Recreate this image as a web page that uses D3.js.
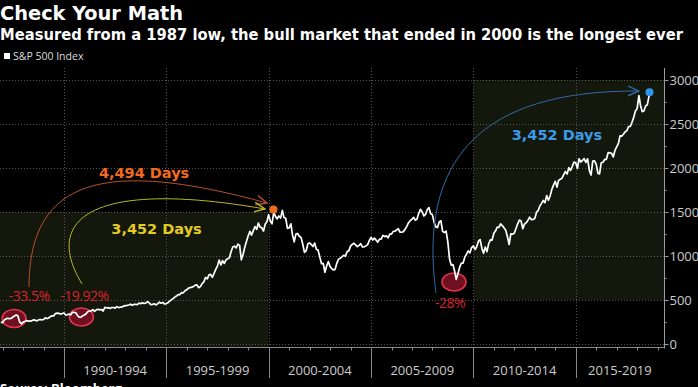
<html>
<head>
  <title>Check Your Math</title>
  <script src='https://d3js.org/d3.v7.min.js'></script>
  <style>
  body { margin: 0; background: #000; }
  svg { display: block; font-family: 'Open Sans', sans-serif; }
  </style>
</head>
<body>
  <script>

// S&P 500 monthly closes, starting Nov 1986
var startYear = 1986, startMonth = 10;
var spxClose = [
  249, 242,
  274, 284, 292, 288, 290, 304, 319, 330, 322, 252, 230, 247,
  257, 268, 259, 261, 262, 274, 272, 262, 272, 279, 274, 278,
  297, 289, 295, 310, 321, 318, 346, 351, 349, 340, 346, 353,
  329, 332, 340, 331, 361, 358, 356, 323, 306, 304, 322, 330,
  344, 367, 375, 375, 390, 371, 388, 395, 388, 392, 375, 417,
  409, 413, 404, 415, 415, 408, 424, 414, 418, 419, 431, 436,
  439, 443, 452, 440, 450, 451, 448, 464, 459, 468, 462, 466,
  482, 467, 446, 451, 457, 444, 458, 475, 463, 472, 454, 459,
  470, 487, 501, 515, 533, 545, 562, 562, 584, 582, 605, 616,
  636, 640, 646, 654, 669, 671, 640, 652, 687, 705, 757, 741,
  786, 791, 757, 801, 848, 885, 954, 899, 947, 915, 955, 970,
  980, 1049, 1102, 1112, 1091, 1134, 1121, 957, 1017, 1099, 1164, 1229,
  1280, 1238, 1286, 1335, 1302, 1373, 1329, 1320, 1283, 1363, 1389, 1469,
  1394, 1366, 1499, 1452, 1421, 1455, 1431, 1518, 1437, 1429, 1315, 1320,
  1366, 1240, 1160, 1249, 1256, 1224, 1211, 1134, 1041, 1060, 1139, 1148,
  1130, 1107, 1147, 1076, 1067, 990, 912, 916, 815, 886, 936, 880,
  856, 841, 848, 917, 964, 975, 990, 1008, 996, 1051, 1058, 1112,
  1131, 1145, 1126, 1107, 1121, 1141, 1102, 1104, 1115, 1130, 1174, 1212,
  1181, 1204, 1181, 1157, 1192, 1191, 1234, 1220, 1229, 1207, 1249, 1248,
  1280, 1281, 1295, 1311, 1270, 1270, 1277, 1304, 1336, 1378, 1401, 1418,
  1438, 1407, 1421, 1482, 1531, 1503, 1455, 1474, 1527, 1549, 1481, 1468,
  1379, 1331, 1323, 1386, 1400, 1280, 1267, 1283, 1166, 969, 896, 903,
  826, 735, 798, 873, 919, 919, 987, 1021, 1057, 1036, 1096, 1115,
  1074, 1104, 1169, 1187, 1089, 1031, 1102, 1049, 1141, 1183, 1181, 1258,
  1286, 1327, 1326, 1364, 1345, 1321, 1292, 1219, 1131, 1253, 1247, 1258,
  1312, 1366, 1408, 1398, 1310, 1362, 1379, 1407, 1441, 1412, 1416, 1426,
  1498, 1515, 1569, 1598, 1631, 1606, 1686, 1633, 1682, 1757, 1806, 1848,
  1783, 1859, 1872, 1884, 1924, 1960, 1931, 2003, 1972, 2018, 2068, 2059,
  1995, 2105, 2068, 2086, 2107, 2063, 2104, 1972, 1920, 2079, 2080, 2044,
  1940, 1932, 2060, 2065, 2097, 2099, 2174, 2171, 2168, 2126, 2199, 2239,
  2279, 2364, 2363, 2384, 2412, 2423, 2470, 2472, 2519, 2575, 2648, 2674,
  2824, 2714, 2641, 2648, 2705, 2718, 2816, 2860
];

var yTicks = [0, 500, 1000, 1500, 2000, 2500, 3000];
var periodStarts = [1990, 1995, 2000, 2005, 2010, 2015];
var periodLabels = ['1990-1994', '1995-1999', '2000-2004', '2005-2009', '2010-2014', '2015-2019'];

// shaded bull market spans: [fromYear, toYear, lowValue, highValue]
var shades = [[1986.87, 2000, 0, 1500], [2010, 2019.31, 500, 3000]];

// peaks marked with dots: [year, value, colour]
var peaks = [[2000.23, 1527, '#f26a1b'], [2018.6, 2860, '#2f96ee']];

// circled drawdowns: [year, value, label, labelYear, labelValue]
var drops = [
  [1987.56, 290, '-33.5%', 1988.3, 490],
  [1990.85, 307, '-19.92%', 1991.0, 490],
  [2009.05, 705, '-28%', 2008.86, 410]
];

// arcs as cubic curves of [year, value] points
var arcs = [
  {c: '#b5512a', pts: [[1988.29, 648], [1988.29, 1920], [1992.25, 2091], [1999.92, 1602]]},
  {c: '#b9b52a', pts: [[1990.88, 682], [1988.83, 1466], [1991.76, 1864], [1999.82, 1534]]},
  {c: '#2e6aa6', pts: [[2008.17, 580], [2007.29, 2091], [2010.32, 2886], [2018.09, 2875]]}
];
var arcLabels = [
  ['4,494 Days', 1993.91, 1890, '#f26a1b'],
  ['3,452 Days', 1994.52, 1250, '#e3cb1f'],
  ['3,452 Days', 2014.08, 2320, '#3a9be8']
];

var width = 698, height = 387;
var plotRight = 664, plotTop = 68, axisY = 347.5;

function yearDate(y) {
  var yr = Math.floor(y);
  var a = new Date(yr, 0, 1), b = new Date(yr + 1, 0, 1);
  return new Date(+a + (y - yr) * (b - a));
}

var series = spxClose.map(function(v, i) {
  return {date: new Date(startYear, startMonth + i + 1, 0), value: v};
});

var x = d3.scaleTime()
  .domain([yearDate(1986.873), yearDate(2019.31)])
  .range([0, plotRight]);
var y = d3.scaleLinear()
  .domain([0, 3000])
  .range([344, 80]);

var svg = d3.select('body')
  .append('svg')
  .attr('width', width)
  .attr('height', height);

svg.append('rect').attr('width', width).attr('height', height).attr('fill', '#000');

// titles
svg.append('text').attr('x', 0).attr('y', 20)
  .attr('fill', '#fff').attr('font-weight', 'bold').attr('font-size', 20)
  .attr('font-family', 'DejaVu Sans Condensed, DejaVu Sans, sans-serif')
  .attr('textLength', 183).attr('lengthAdjust', 'spacingAndGlyphs')
  .text('Check Your Math');
svg.append('text').attr('x', 0).attr('y', 40)
  .attr('fill', '#fff').attr('font-weight', 'bold').attr('font-size', 15)
  .attr('font-family', 'DejaVu Sans Condensed, DejaVu Sans, sans-serif')
  .attr('textLength', 683).attr('lengthAdjust', 'spacingAndGlyphs')
  .text('Measured from a 1987 low, the bull market that ended in 2000 is the longest ever');

// legend
svg.append('rect').attr('x', 4).attr('y', 53).attr('width', 6).attr('height', 6).attr('fill', '#fff');
svg.append('text').attr('x', 13).attr('y', 60)
  .attr('fill', '#ddd').attr('font-size', 10.5)
  .text('S&P 500 Index');

// shaded regions
svg.selectAll('rect.shade')
  .data(shades)
  .enter()
  .append('rect')
  .attr('class', 'shade')
  .attr('x', function(d) { return x(yearDate(d[0])); })
  .attr('width', function(d) { return x(yearDate(d[1])) - x(yearDate(d[0])); })
  .attr('y', function(d) { return y(d[3]); })
  .attr('height', function(d) { return (d[2] == 0 ? axisY : y(d[2])) - y(d[3]); })
  .attr('fill', '#14170b');

// grid
var grid = svg.append('g').attr('stroke', '#555').attr('stroke-dasharray', '1,2');
grid.selectAll('line.h')
  .data(yTicks)
  .enter()
  .append('line')
  .attr('x1', 0).attr('x2', plotRight)
  .attr('y1', function(d) { return Math.round(y(d)) + 0.5; })
  .attr('y2', function(d) { return Math.round(y(d)) + 0.5; });
grid.selectAll('line.v')
  .data(periodStarts)
  .enter()
  .append('line')
  .attr('y1', plotTop).attr('y2', axisY)
  .attr('x1', function(d) { return Math.round(x(yearDate(d))) + 0.5; })
  .attr('x2', function(d) { return Math.round(x(yearDate(d))) + 0.5; });

// right axis
var yAxis = d3.axisRight(y)
  .tickValues(d3.range(0, 3001, 250))
  .tickSize(4)
  .tickFormat(function(d) { return d % 500 == 0 ? d : ''; });
var ya = svg.append('g')
  .attr('transform', 'translate(' + (plotRight + 0.5) + ',0)')
  .call(yAxis);
ya.select('.domain').remove();
ya.selectAll('.tick line').attr('stroke', '#999')
  .attr('x2', function(d) { return d % 500 == 0 ? 4 : 2; });
ya.selectAll('.tick text').attr('fill', '#ccc').attr('font-size', 13)
  .attr('font-family', 'Open Sans, sans-serif').attr('x', 5);
ya.append('line').attr('y1', plotTop).attr('y2', axisY + 1).attr('stroke', '#999');

// bottom axis
var xa = svg.append('g');
xa.append('line').attr('x1', 0).attr('x2', plotRight).attr('y1', axisY).attr('y2', axisY).attr('stroke', '#888');
xa.selectAll('line.minor')
  .data(d3.range(1987, 2020))
  .enter()
  .append('line')
  .attr('stroke', '#888')
  .attr('x1', function(d) { return Math.round(x(yearDate(d))) + 0.5; })
  .attr('x2', function(d) { return Math.round(x(yearDate(d))) + 0.5; })
  .attr('y1', axisY).attr('y2', axisY + 3);
xa.selectAll('line.major')
  .data(periodStarts)
  .enter()
  .append('line')
  .attr('stroke', '#888')
  .attr('x1', function(d) { return Math.round(x(yearDate(d))) + 0.5; })
  .attr('x2', function(d) { return Math.round(x(yearDate(d))) + 0.5; })
  .attr('y1', axisY).attr('y2', 378);
xa.selectAll('text')
  .data(periodStarts)
  .enter()
  .append('text')
  .attr('x', function(d) {
    var a = x(yearDate(d)), b = Math.min(plotRight, x(yearDate(d + 5)));
    return (a + b) / 2;
  })
  .attr('y', 375)
  .attr('text-anchor', 'middle')
  .attr('fill', '#ccc').attr('font-size', 13)
  .text(function(d, i) { return periodLabels[i]; });

svg.append('text').attr('x', 0).attr('y', 393)
  .attr('fill', '#fff').attr('font-weight', 'bold').attr('font-size', 13)
  .text('Source: Bloomberg');

// drawdown ellipses (behind line)
svg.selectAll('ellipse')
  .data(drops)
  .enter()
  .append('ellipse')
  .attr('cx', function(d) { return x(yearDate(d[0])); })
  .attr('cy', function(d) { return y(d[1]); })
  .attr('rx', 12).attr('ry', 9)
  .attr('fill', '#6e1020')
  .attr('stroke', '#e8354d').attr('stroke-width', 1.5);

// index line
var line = d3.line()
  .x(function(d) { return x(d.date); })
  .y(function(d) { return y(d.value); });
svg.append('path')
  .datum(series)
  .attr('d', line)
  .attr('fill', 'none')
  .attr('stroke', '#fff')
  .attr('stroke-width', 1.7)
  .attr('stroke-linejoin', 'round');

svg.selectAll('text.drop')
  .data(drops)
  .enter()
  .append('text')
  .attr('class', 'drop')
  .attr('x', function(d) { return x(yearDate(d[3])); })
  .attr('y', function(d) { return y(d[4]); })
  .attr('text-anchor', 'middle')
  .attr('fill', '#d8232f').attr('font-size', 14).attr('letter-spacing', -0.5)
  .text(function(d) { return d[2]; });

// arcs with open arrowheads
var defs = svg.append('defs');
arcs.forEach(function(a, i) {
  defs.append('marker')
    .attr('id', 'arr' + i)
    .attr('viewBox', '0 0 10 10')
    .attr('refX', 9).attr('refY', 5)
    .attr('markerWidth', 12).attr('markerHeight', 12)
    .attr('markerUnits', 'userSpaceOnUse')
    .attr('orient', 'auto')
    .append('path')
    .attr('d', 'M0,1 L9,5 L0,9')
    .attr('fill', 'none')
    .attr('stroke', a.c)
    .attr('stroke-width', 1.2);
});
svg.selectAll('path.arc')
  .data(arcs)
  .enter()
  .append('path')
  .attr('class', 'arc')
  .attr('d', function(a) {
    var p = a.pts.map(function(q) { return [x(yearDate(q[0])), y(q[1])]; });
    var path = d3.path();
    path.moveTo(p[0][0], p[0][1]);
    path.bezierCurveTo(p[1][0], p[1][1], p[2][0], p[2][1], p[3][0], p[3][1]);
    return path.toString();
  })
  .attr('fill', 'none')
  .attr('stroke', function(a) { return a.c; })
  .attr('stroke-width', 1)
  .attr('marker-end', function(a, i) { return 'url(#arr' + i + ')'; });

svg.selectAll('circle.peak')
  .data(peaks)
  .enter()
  .append('circle')
  .attr('class', 'peak')
  .attr('cx', function(d) { return x(yearDate(d[0])); })
  .attr('cy', function(d) { return y(d[1]); })
  .attr('r', 4)
  .attr('fill', function(d) { return d[2]; });

svg.selectAll('text.days')
  .data(arcLabels)
  .enter()
  .append('text')
  .attr('class', 'days')
  .attr('x', function(d) { return x(yearDate(d[1])); })
  .attr('y', function(d) { return y(d[2]); })
  .attr('text-anchor', 'middle')
  .attr('fill', function(d) { return d[3]; })
  .attr('font-family', 'DejaVu Sans, sans-serif')
  .attr('font-weight', 'bold').attr('font-size', 14.5)
  .text(function(d) { return d[0]; });

  </script>
</body>
</html>
